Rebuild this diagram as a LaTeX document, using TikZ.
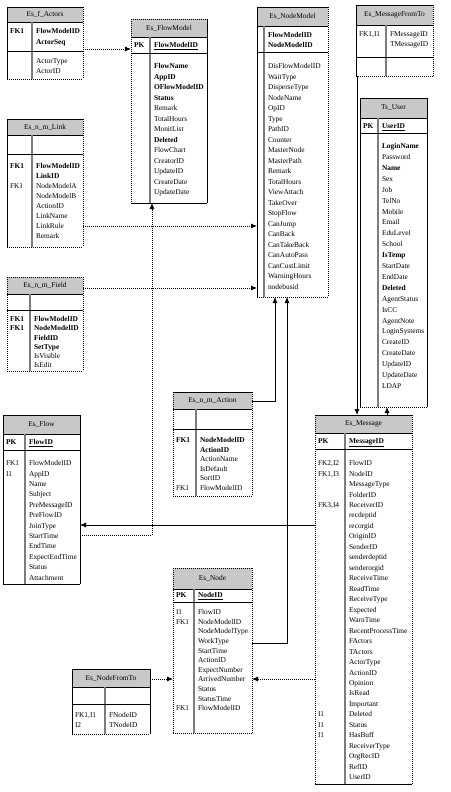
\documentclass[tikz,border=0pt]{standalone}
\usepackage{fontspec}
\setmainfont{Liberation Serif}
\usetikzlibrary{arrows.meta,fit}
\definecolor{hdrfill}{RGB}{200,200,200}
\definecolor{divgray}{RGB}{125,125,125}
\tikzset{
  txt/.style={font=\fontsize{7.4}{9}\selectfont, inner sep=0pt, outer sep=0pt},
  solidedge/.style={line width=0.8pt, draw=black},
  dotedge/.style={line width=0.8pt, draw=black, dash pattern=on 1pt off 1pt},
  sepline/.style={line width=0.9pt, draw=black},
  divline/.style={line width=1.3pt, draw=divgray},
  conn/.style={line width=0.8pt, draw=black},
  dconn/.style={line width=0.8pt, draw=black, dash pattern=on 1pt off 1pt},
  tip/.style={-{Latex[length=6pt,width=5pt]}},
}
% name, L, T, R, B, header bottom, title, divider x
\newcommand\tbox[8]{%
  \fill[hdrfill] (#2,#3) rectangle (#4,#6);
  \path (#2,#3) coordinate (#1-nw) (#4,#5) coordinate (#1-se);
  \node[inner sep=0pt, outer sep=0pt, fit=(#1-nw)(#1-se)] (#1) {};
  \node[txt] (#1-title) at ({(#2+#4)/2}, {(#3+#6)/2}) {#7};
  \draw[sepline] (#2,#6) -- (#4,#6);
  \draw[divline] (#8,#6) -- (#8,#5);
}
% name, top, right, bottom, left
\newcommand\tsides[5]{%
  \draw[#2] (#1.north west) -- (#1.north east);
  \draw[#3] (#1.north east) -- (#1.south east);
  \draw[#4] (#1.south west) -- (#1.south east);
  \draw[#5] (#1.north west) -- (#1.south west);
}
% prefix, x, first row centre, step, list
\newcommand\trows[5]{%
  \foreach \rowtxt [count=\ri from 0] in {#5} {%
    \node[txt, anchor=base west] (#1-\ri) at (#2, {#3+\ri*#4+2.6}) {\rowtxt};}%
}
\begin{document}
\begin{tikzpicture}[x=1pt, y=-1pt]
\useasboundingbox (0,0) rectangle (450,792);

% ---- Es_f_Actors
\tbox{actors}{7}{7}{83}{79}{22}{Es\_f\_Actors}{32}
\draw[sepline] (7,51) -- (83,51);
\trows{actorsl}{10}{31}{10.5}{\textbf{FK1}}
\trows{actorsk}{36}{31}{10.5}{\textbf{FlowModelID},\textbf{ActorSeq}}
\trows{actorsb}{36}{61}{10}{ActorType,ActorID}
\tsides{actors}{solidedge}{dotedge}{dotedge}{solidedge}

% ---- Es_FlowModel
\tbox{flowmodel}{131}{19}{207}{203}{37}{Es\_FlowModel}{150}
\draw[sepline] (131,53) -- (207,53);
\trows{flowmodell}{134}{45}{10}{\textbf{PK}}
\trows{flowmodelk}{154}{45}{10}{\textbf{\underline{FlowModelID}}}
\trows{flowmodelb}{154}{66}{10.5}{\textbf{FlowName},\textbf{AppID},\textbf{OFlowModelID},\textbf{Status},Remark,TotalHours,MonitList,\textbf{Deleted},FlowChart,CreatorID,UpdateID,CreateDate,UpdateDate}
\tsides{flowmodel}{dotedge}{solidedge}{solidedge}{dotedge}

% ---- Es_NodeModel
\tbox{nodemodel}{257}{7}{328}{297}{26}{Es\_NodeModel}{264}
\draw[sepline] (257,52) -- (328,52);
\trows{nodemodelk}{268}{35}{9.5}{\textbf{FlowModelID},\textbf{NodeModelID}}
\trows{nodemodelb}{268}{66}{10.5}{DisFlowModelID,WaitType,DisperseType,NodeName,OpID,Type,PathID,Counter,MasterNode,MasterPath,Remark,TotalHours,ViewAttach,TakeOver,StopFlow,CanJump,CanBack,CanTakeBack,CanAutoPass,CanCustLimit,WarningHours,nodebusid}
\tsides{nodemodel}{solidedge}{dotedge}{dotedge}{solidedge}

% ---- Es_MessageFromTo
\tbox{msgft}{356}{5}{433}{76}{25}{Es\_MessageFromTo}{386}
\draw[sepline] (356,57) -- (433,57);
\trows{msgftl}{359}{34}{10}{{FK1,I1}}
\trows{msgftk}{390}{34}{10}{FMessageID,TMessageID}
\tsides{msgft}{solidedge}{dotedge}{dotedge}{solidedge}

% ---- Ts_User
\tbox{user}{360}{98}{427}{407}{118}{Ts\_User}{378}
\draw[sepline] (360,133) -- (427,133);
\trows{userl}{363}{126}{10}{\textbf{PK}}
\trows{userk}{382}{126}{10}{\textbf{\underline{UserID}}}
\trows{userb}{382}{146}{10.9}{\textbf{LoginName},Password,\textbf{Name},Sex,Job,TelNo,Mobile,Email,EduLevel,School,\textbf{IsTemp},StartDate,EndDate,\textbf{Deleted},AgentStatus,IsCC,AgentNote,LoginSystems,CreateID,CreateDate,UpdateID,UpdateDate,LDAP}
\tsides{user}{solidedge}{solidedge}{dotedge}{solidedge}

% ---- Es_n_m_Link
\tbox{link}{7}{119}{83}{247}{135}{Es\_n\_m\_Link}{32}
\draw[sepline] (7,154) -- (83,154);
\trows{linkl}{10}{166}{10}{\textbf{FK1},{},FK1}
\trows{linkb}{36}{166}{10}{\textbf{FlowModelID},\textbf{LinkID},NodeModelA,NodeModelB,ActionID,LinkName,LinkRule,Remark}
\tsides{link}{solidedge}{dotedge}{dotedge}{solidedge}

% ---- Es_n_m_Field
\tbox{field}{7}{277}{83}{371}{294}{Es\_n\_m\_Field}{30}
\draw[sepline] (7,310) -- (83,310);
\trows{fieldl}{10}{319}{9.2}{\textbf{FK1},\textbf{FK1}}
\trows{fieldb}{34}{319}{9.2}{\textbf{FlowModelID},\textbf{NodeModelID},\textbf{FieldID},\textbf{SetType},IsVisible,IsEdit}
\tsides{field}{dotedge}{dotedge}{dotedge}{dotedge}

% ---- Es_n_m_Action
\tbox{action}{173}{392}{252}{496}{409}{Es\_n\_m\_Action}{196}
\draw[sepline] (173,429) -- (252,429);
\trows{actionl}{176}{440}{9.5}{\textbf{FK1},{},{},{},{},FK1}
\trows{actionb}{200}{440}{9.5}{\textbf{NodeModelID},\textbf{ActionID},ActionName,IsDefault,SortID,FlowModelID}
\tsides{action}{solidedge}{dotedge}{dotedge}{dotedge}

% ---- Es_Flow
\tbox{flow}{3}{415}{80}{584}{434}{Es\_Flow}{25}
\draw[sepline] (3,450) -- (80,450);
\trows{flowp}{6}{442}{10}{\textbf{PK}}
\trows{flowk}{29}{442}{10}{\textbf{\underline{FlowID}}}
\trows{flowl}{6}{463}{10.4}{FK1,I1}
\trows{flowb}{29}{463}{10.4}{FlowModelID,AppID,Name,Subject,PreMessageID,PreFlowID,JoinType,StartTime,EndTime,ExpectEndTime,Status,Attachment}
\tsides{flow}{solidedge}{solidedge}{solidedge}{solidedge}

% ---- Es_Message
\tbox{message}{315}{415}{412}{784}{433}{Es\_Message}{345}
\draw[sepline] (315,449) -- (412,449);
\trows{messagep}{318}{441}{10}{\textbf{PK}}
\trows{messagek}{349}{441}{10}{\textbf{\underline{MessageID}}}
\trows{messagel}{318}{463}{10.47}{{FK2,I2},{FK1,I3},{},{},{FK3,I4},{},{},{},{},{},{},{},{},{},{},{},{},{},{},{},{},{},{},{},I1,I1,I1}
\trows{messageb}{349}{463}{10.47}{FlowID,NodeID,MessageType,FolderID,ReceiverID,recdeptid,recorgid,OriginID,SenderID,senderdeptid,senderorgid,ReceiveTime,ReadTime,ReceiveType,Expected,WarnTime,RecentProcessTime,FActors,TActors,ActorType,ActionID,Opinion,IsRead,Important,Deleted,Status,HasBuff,ReceiverType,OrgRecID,RefID,UserID}
\tsides{message}{solidedge}{dotedge}{solidedge}{dotedge}

% ---- Es_Node
\tbox{node}{173}{568}{252}{733}{589}{Es\_Node}{194}
\draw[sepline] (173,602) -- (252,602);
\trows{nodep}{176}{595}{10}{\textbf{PK}}
\trows{nodek}{198}{595}{10}{\textbf{\underline{NodeID}}}
\trows{nodel}{176}{612}{9.6}{I1,FK1,{},{},{},{},{},{},{},{},FK1}
\trows{nodeb}{198}{612}{9.6}{FlowID,NodeModelID,NodeModelType,WorkType,StartTime,ActionID,ExpectNumber,ArrivedNumber,Status,StatusTime,FlowModelID}
\tsides{node}{dotedge}{dotedge}{dotedge}{dotedge}

% ---- Es_NodeFromTo
\tbox{nft}{72}{669}{150}{734}{687}{Es\_NodeFromTo}{105}
\draw[sepline] (72,704) -- (150,704);
\trows{nftl}{75}{715}{9.5}{{FK1,I1},I2}
\trows{nftb}{109}{715}{9.5}{FNodeID,TNodeID}
\tsides{nft}{solidedge}{solidedge}{dotedge}{solidedge}

% ---- connectors
\draw[dconn, tip] (actors.east |- 0,49) -- (flowmodel.west |- 0,49);
\draw[dconn, tip] (flow.east |- 0,535) -| (flowmodel.south -| 152,0);
\draw[dconn, tip] (link.east |- 0,226) -- (nodemodel.west |- 0,226);
\draw[dconn, tip] (field.east |- 0,288) -- (nodemodel.west |- 0,288);
\draw[conn, tip] (action.east |- 0,401) -| (nodemodel.south -| 275,0);
\draw[conn, tip] (node.east |- 0,643) -| (nodemodel.south -| 287,0);
\draw[conn, tip] (msgft.south -| 357,0) -- (message.north -| 357,0);
\draw[conn, tip] (message.north -| 387,0) -- (user.south -| 387,0);
\draw[conn, tip] (message.west |- 0,525) -- (flow.east |- 0,525);
\draw[dconn, tip] (message.west |- 0,679) -- (node.east |- 0,679);
\draw[dconn, tip] (nft.east |- 0,679) -- (node.west |- 0,679);
\end{tikzpicture}
\end{document}
